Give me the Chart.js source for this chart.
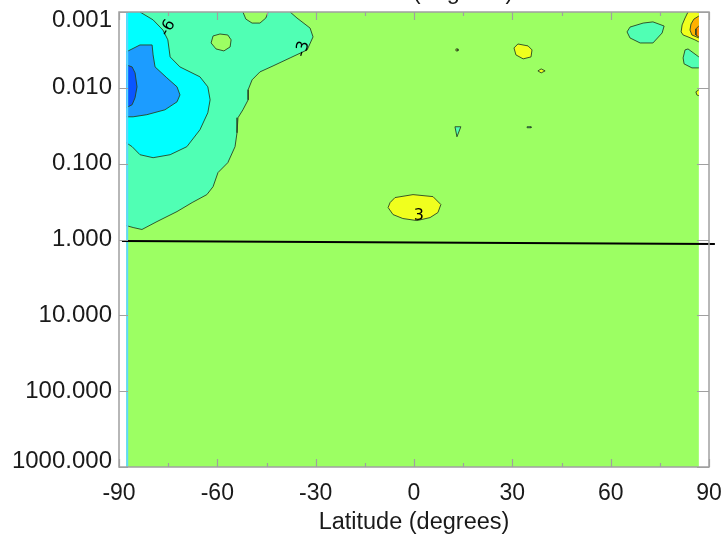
<!DOCTYPE html>
<html><head><meta charset="utf-8">
<script src="https://cdn.jsdelivr.net/npm/chart.js@4.4.1/dist/chart.umd.min.js"></script>
<style>html,body{margin:0;padding:0;background:#fff;}canvas{display:block;}</style>
</head><body>
<canvas id="c" width="723" height="544"></canvas>
<script>
// ---------- axis data ----------
const xTicks = [-90, -60, -30, 0, 30, 60, 90];
const xMinorTicks = [-75, -45, -15, 15, 45, 75];
const yTicks = [0.001, 0.01, 0.1, 1, 10, 100, 1000];
const xTitle = 'Latitude (degrees)';
const topClippedTitle = 'Latitude (degrees)';
const latRange = [-87.8, 86.9];      // extent of the gridded field
const pRange = [0.001, 1000];        // pressure extent

// ---------- contour regions: [latitude, pressure] ----------
const fieldBackground = [[-87.8, 0.001], [86.9, 0.001], [86.9, 1000], [-87.8, 1000]];
const tealSouth = [[-87.8, 0.001], [-37.8, 0.001], [-35.7, 0.0012], [-31.7, 0.00163], [-30.8, 0.00213],
  [-32.6, 0.00316], [-37.8, 0.00403], [-43.0, 0.00514], [-47.0, 0.00616], [-49.4, 0.00785], [-50.6, 0.0106],
  [-50.6, 0.0144], [-52.2, 0.0195], [-53.7, 0.0248], [-54.0, 0.0391], [-54.6, 0.0597], [-56.8, 0.097],
  [-59.8, 0.131], [-61.3, 0.201], [-63.2, 0.256], [-67.7, 0.326], [-72.3, 0.428], [-78.4, 0.58],
  [-83.0, 0.738], [-85.7, 0.695], [-87.8, 0.655]];
const greenNotch = [[-52.2, 0.001], [-51.3, 0.00124], [-49.4, 0.0014], [-47.0, 0.0014], [-45.2, 0.0012], [-44.5, 0.001]];
const greenIsland = [[-61.3, 0.00207], [-59.2, 0.00195], [-56.8, 0.00201], [-55.8, 0.00233], [-56.1, 0.00289],
  [-58.0, 0.00326], [-60.4, 0.00307], [-61.9, 0.00256]];
const cyanSouth = [[-87.8, 0.001], [-83.6, 0.001], [-79.6, 0.00127], [-76.6, 0.00173], [-75.1, 0.00233],
  [-74.4, 0.00391], [-71.4, 0.0053], [-65.3, 0.00716], [-62.9, 0.0097], [-62.2, 0.0144], [-62.9, 0.0213],
  [-65.3, 0.0357], [-69.3, 0.0597], [-74.4, 0.0762], [-79.6, 0.0834], [-83.6, 0.0762], [-86.0, 0.0597], [-87.8, 0.053]];
const blueSouth = [[-87.8, 0.00336], [-83.6, 0.00272], [-79.9, 0.00272], [-79.6, 0.00368], [-79.0, 0.0053],
  [-75.4, 0.00738], [-72.3, 0.0097], [-71.4, 0.0124], [-72.3, 0.0153], [-76.0, 0.0195], [-81.5, 0.0226],
  [-85.7, 0.0241], [-87.8, 0.0241]];
const darkBlueSouth = [[-87.8, 0.00498], [-86.0, 0.0053], [-85.1, 0.00635], [-84.5, 0.0097], [-85.1, 0.0135],
  [-86.0, 0.0167], [-87.8, 0.0183]];
const yellowEquator = [[-7.9, 0.379], [-7.3, 0.326], [-5.8, 0.28], [-0.3, 0.256], [5.8, 0.272], [8.2, 0.346],
  [7.3, 0.441], [4.9, 0.514], [0.9, 0.563], [-3.4, 0.529], [-6.4, 0.469]];
const yellowNorth1 = [[30.5, 0.00298], [31.7, 0.00264], [34.8, 0.0028], [36.0, 0.00316], [35.7, 0.00391],
  [33.3, 0.00415], [31.1, 0.00368]];
const yellowNorth2 = [[37.8, 0.00598], [38.8, 0.00563], [40.0, 0.00598], [38.8, 0.00635]];
const yellowSpeck = [[12.8, 0.00307], [13.4, 0.00307], [13.4, 0.00326], [12.8, 0.00326]];
const tealTriangle = [[12.5, 0.0326], [14.3, 0.0326], [13.1, 0.0442]];
const tealSpeck = [[34.5, 0.0326], [35.7, 0.0326], [35.7, 0.0336], [34.5, 0.0336]];
const tealNorth1 = [[65.0, 0.00183], [65.9, 0.00158], [69.9, 0.0014], [72.9, 0.00135], [76.3, 0.00153],
  [75.7, 0.00189], [72.9, 0.00256], [69.0, 0.00256], [65.9, 0.0022]];
const yellowCorner = [[83.6, 0.001], [82.7, 0.0012], [81.8, 0.00148], [81.5, 0.00183], [82.1, 0.00201],
  [83.6, 0.00213], [85.7, 0.00233], [86.9, 0.00248], [86.9, 0.001]];
const orangeCorner = [[86.9, 0.00113], [85.4, 0.00124], [84.5, 0.00144], [84.2, 0.00173], [84.8, 0.00201], [86.9, 0.0022]];
const darkOrangeCorner = [[86.9, 0.00153], [86.0, 0.00167], [86.0, 0.00201], [86.9, 0.00213]];
const tealNorth2 = [[82.7, 0.00316], [83.6, 0.00307], [86.9, 0.00391], [86.9, 0.00546], [84.8, 0.00546],
  [82.4, 0.00483], [82.1, 0.00403]];
const yellowEdge = [[86.9, 0.0106], [86.0, 0.0113], [86.3, 0.0124], [86.9, 0.0127]];
const edgeStrip = [[-87.5, 0.001], [-87.5, 1000]];
const referenceLine = [[-89.1, 1.046], [91.8, 1.146]];

// contour labels: [latitude, pressure, text, rotation deg]
const contourLabels = [[-75.1, 0.00163, '-6', -60], [-33.9, 0.00307, '-3', -75], [1.5, 0.483, '3', 0]];

// ---------- styles ----------
const C = {
  green: '#9CFF63', teal: '#50FFB4', cyan: '#00FFFF', blue: '#1C9CFF', darkBlue: '#0A55FF',
  yellow: '#F0FF1E', orange: '#FFB000', darkOrange: '#FF8400', strip: '#5FD8FF',
  line: 'rgba(40,70,35,0.9)', axis: '#a0a0a0', text: '#1a1a1a'
};
const FONT = '"Liberation Sans", Arial, Helvetica, sans-serif';

const layers = [
  [fieldBackground, C.green, false],
  [tealSouth, C.teal, true],
  [greenNotch, C.green, true],
  [greenIsland, C.green, true],
  [cyanSouth, C.cyan, true],
  [blueSouth, C.blue, true],
  [darkBlueSouth, C.darkBlue, true],
  [yellowEquator, C.yellow, true],
  [yellowNorth1, C.yellow, true],
  [yellowNorth2, C.yellow, true],
  [yellowSpeck, C.yellow, true],
  [tealTriangle, C.teal, true],
  [tealSpeck, C.teal, true],
  [tealNorth1, C.teal, true],
  [yellowCorner, C.yellow, true],
  [orangeCorner, C.orange, true],
  [darkOrangeCorner, C.darkOrange, true],
  [tealNorth2, C.teal, true],
  [yellowEdge, C.yellow, true]
];

function onEdge(a, b) {
  if (a[0] === b[0] && (a[0] === latRange[0] || a[0] === latRange[1])) return true;
  if (a[1] === b[1] && (a[1] === pRange[0] || a[1] === pRange[1])) return true;
  return false;
}

const datasets = [];
layers.forEach(([pts, color, outlined]) => {
  const closed = pts.concat([pts[0]]);
  datasets.push({
    data: closed.map(p => ({x: p[0], y: p[1]})),
    fill: 'shape',
    backgroundColor: color,
    borderColor: color,
    borderWidth: 0,
    pointRadius: 0,
    tension: 0
  });
  if (outlined) {
    // outline, broken where the region runs along the edge of the field
    const outline = [];
    for (let i = 0; i < closed.length; i++) {
      if (i > 0 && onEdge(closed[i - 1], closed[i])) outline.push({x: closed[i][0], y: null});
      outline.push({x: closed[i][0], y: closed[i][1]});
    }
    datasets.push({
      data: outline, fill: false, borderColor: C.line, borderWidth: 1,
      pointRadius: 0, tension: 0, spanGaps: false
    });
  }
});
datasets.push({
  data: edgeStrip.map(p => ({x: p[0], y: p[1]})),
  fill: false, borderColor: C.strip, borderWidth: 2, pointRadius: 0
});
datasets.push({
  data: referenceLine.map(p => ({x: p[0], y: p[1]})),
  fill: false, borderColor: '#000', borderWidth: 2, pointRadius: 0, clip: false
});
datasets.forEach((d, i) => { d.order = datasets.length - i; });

const framePlugin = {
  id: 'frame',
  afterDatasetsDraw(chart) {
    const {ctx, chartArea: a, scales: {x, y}} = chart;
    ctx.save();
    // contour labels
    ctx.fillStyle = '#000';
    ctx.font = '16px "DejaVu Sans", sans-serif';
    ctx.textAlign = 'center'; ctx.textBaseline = 'middle';
    contourLabels.forEach(([lat, p, t, rot]) => {
      ctx.save();
      ctx.translate(x.getPixelForValue(lat), y.getPixelForValue(p));
      ctx.rotate(rot * Math.PI / 180);
      ctx.fillText(t, 0, 0);
      ctx.restore();
    });
    // frame
    ctx.strokeStyle = C.axis; ctx.lineWidth = 1.5;
    ctx.strokeRect(a.left, a.top, a.right - a.left, a.bottom - a.top);
    ctx.lineWidth = 1.2;
    ctx.beginPath();
    xTicks.forEach(v => {
      const px = Math.round(x.getPixelForValue(v)) + 0.5;
      ctx.moveTo(px, a.bottom); ctx.lineTo(px, a.bottom - 8);
      ctx.moveTo(px, a.top); ctx.lineTo(px, a.top + 8);
    });
    xMinorTicks.forEach(v => {
      const px = Math.round(x.getPixelForValue(v)) + 0.5;
      ctx.moveTo(px, a.bottom); ctx.lineTo(px, a.bottom - 4);
      ctx.moveTo(px, a.top); ctx.lineTo(px, a.top + 4);
    });
    yTicks.forEach(v => {
      const py = Math.round(y.getPixelForValue(v)) + 0.5;
      ctx.moveTo(a.left, py); ctx.lineTo(a.left + 9, py);
      ctx.moveTo(a.right, py); ctx.lineTo(a.right - 12, py);
    });
    ctx.stroke();
    // tick labels
    ctx.fillStyle = C.text;
    ctx.font = '24px ' + FONT;
    ctx.textAlign = 'right'; ctx.textBaseline = 'middle';
    yTicks.forEach(v => {
      let py = y.getPixelForValue(v);
      py = Math.min(Math.max(py, a.top + 8), a.bottom - 6);
      ctx.fillText(v.toFixed(3), a.left - 7, py);
    });
    ctx.font = '23px ' + FONT;
    ctx.textAlign = 'center';
    xTicks.forEach(v => {
      ctx.fillText(String(v), x.getPixelForValue(v), a.bottom + 27);
    });
    ctx.font = '23.5px ' + FONT;
    const cx = (a.left + a.right) / 2;
    ctx.fillText(xTitle, cx, a.bottom + 56);
    ctx.textBaseline = 'alphabetic';
    ctx.fillText(topClippedTitle, cx + 4, -1);
    ctx.restore();
  }
};

new Chart(document.getElementById('c'), {
  type: 'line',
  data: {datasets},
  options: {
    responsive: false, animation: false, devicePixelRatio: 1,
    layout: {padding: {left: 119, top: 12, right: 14, bottom: 77}},
    events: [],
    plugins: {legend: {display: false}, tooltip: {enabled: false}},
    scales: {
      x: {type: 'linear', min: -90, max: 90, display: false},
      y: {type: 'logarithmic', min: 0.001, max: 1000, reverse: true, display: false}
    }
  },
  plugins: [framePlugin]
});
</script>
</body></html>
